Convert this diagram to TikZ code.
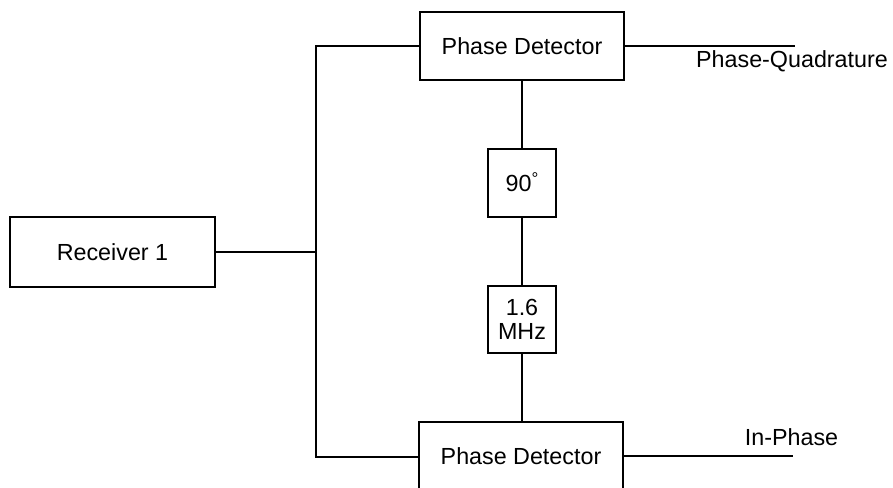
\documentclass[tikz,border=0pt]{standalone}
\usepackage{fontspec}
\setmainfont{Liberation Sans}
\begin{document}
\begin{tikzpicture}[x=1pt,y=-1pt,
  blk/.style={draw, line width=1.8pt, inner sep=0pt, align=center, font=\fontsize{23.3}{26}\selectfont},
  wire/.style={line width=1.7pt},
  lbl/.style={inner sep=0pt, anchor=base, font=\fontsize{23.3}{26}\selectfont}]
\useasboundingbox (0,0) rectangle (893,487);
\clip (0,0) rectangle (893,487);
\node[blk, minimum width=205pt, minimum height=70pt] (rx) at (112.5,252) {Receiver 1};
\node[blk, minimum width=204pt, minimum height=68pt] (pdt) at (522,46) {Phase Detector};
\node[blk, minimum width=204pt, minimum height=68pt] (pdb) at (521,456) {Phase Detector};
\node[blk, minimum width=68pt, minimum height=68pt] (ph) at (522,183) {90\smash{\raisebox{7pt}{\fontsize{17}{17}\selectfont °}}};
\node[blk, minimum width=68pt, minimum height=67pt] (osc) at (522,319.5) {1.6\\[-2pt]MHz};
\coordinate (bus) at (316,252);
\coordinate (bt) at (316,46);
\coordinate (bb) at (316,457);
\coordinate (qend) at (795,46);
\coordinate (iend) at (793,456);
\draw[wire] (rx.east) -- (bus);
\draw[wire] (pdt.west) -- (bt) -- (bb) -- (pdb.west |- bb);
\draw[wire] (pdt.south -| ph.north) -- (ph.north);
\draw[wire] (ph.south) -- (osc.north);
\draw[wire] (osc.south) -- (osc.south |- pdb.north);
\draw[wire] (pdt.east) -- (qend);
\draw[wire] (pdb.east |- iend) -- (iend);
\node[lbl] (q) at (792,67) {Phase-Quadrature};
\node[lbl] (i) at (791.5,445) {In-Phase};
\end{tikzpicture}
\end{document}
